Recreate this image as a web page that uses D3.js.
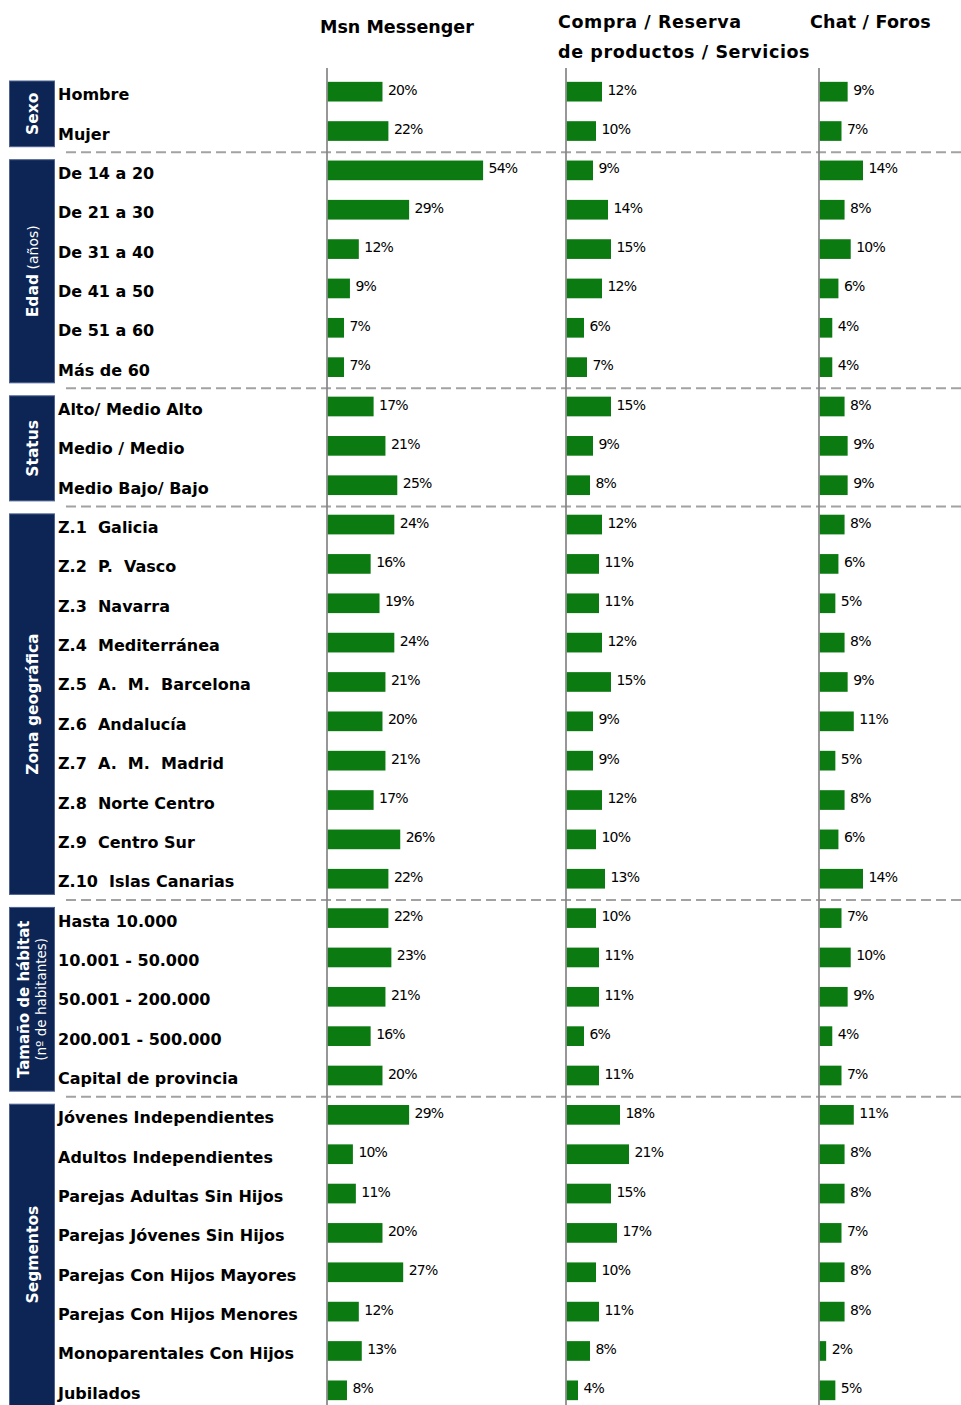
<!DOCTYPE html>
<html><head><meta charset="utf-8">
<script src="https://cdn.jsdelivr.net/npm/d3@7"></script>
<style>body{margin:0;background:#fff}svg{display:block}</style>
</head><body><svg id="chart" width="961" height="1405"></svg>
<script>
// ---------- DATA ----------
const categories = [
  "Hombre","Mujer",
  "De 14 a 20","De 21 a 30","De 31 a 40","De 41 a 50","De 51 a 60","Más de 60",
  "Alto/ Medio Alto","Medio / Medio","Medio Bajo/ Bajo",
  "Z.1  Galicia","Z.2  P.  Vasco","Z.3  Navarra","Z.4  Mediterránea","Z.5  A.  M.  Barcelona",
  "Z.6  Andalucía","Z.7  A.  M.  Madrid","Z.8  Norte Centro","Z.9  Centro Sur","Z.10  Islas Canarias",
  "Hasta 10.000","10.001 - 50.000","50.001 - 200.000","200.001 - 500.000","Capital de provincia",
  "Jóvenes Independientes","Adultos Independientes","Parejas Adultas Sin Hijos","Parejas Jóvenes Sin Hijos",
  "Parejas Con Hijos Mayores","Parejas Con Hijos Menores","Monoparentales Con Hijos","Jubilados"
];
const groupTitles    = ["Sexo","Edad","Status","Zona geográfica","Tamaño de hábitat","Segmentos"];
const groupSubtitles = ["","(años)","","","(nº de habitantes)",""];
const groupSizes     = [2,6,3,10,5,8];

const msnValues    = [20,22, 54,29,12,9,7,7, 17,21,25, 24,16,19,24,21,20,21,17,26,22, 22,23,21,16,20, 29,10,11,20,27,12,13,8];
const compraValues = [12,10, 9,14,15,12,6,7, 15,9,8, 12,11,11,12,15,9,9,12,10,13, 10,11,11,6,11, 18,21,15,17,10,11,8,4];
const chatValues   = [9,7, 14,8,10,6,4,4, 8,9,9, 8,6,5,8,9,11,5,8,6,14, 7,10,9,4,7, 11,8,8,7,8,8,2,5];

const seriesTitles = [["Msn Messenger"],["Compra / Reserva","de productos / Servicios"],["Chat / Foros"]];

// ---------- LAYOUT ----------
const svg = d3.select("#chart");
const W = 961, H = 1405;
const navy = "#0d2554", green = "#0b7a10";
const boldFont = "'DejaVu Sans', Verdana, sans-serif";

const PI = 0.5;
const y = d3.scaleBand().domain(d3.range(categories.length)).range([72, 1410]).paddingInner(PI).paddingOuter(PI / 2);
const step = y.step();
const rowTop = i => y(0) - step * PI / 2 + i * step;

// columns: each with its own linear scale
const columns = [
  {values: msnValues,    axisX: 327, scale: d3.scaleLinear().domain([0, 54]).range([323.3, 483.1]), titleX: 320, ls: 0},
  {values: compraValues, axisX: 566, scale: d3.scaleLinear().domain([0, 21]).range([566, 629]),    titleX: 558, ls: 0.6},
  {values: chatValues,   axisX: 819, scale: d3.scaleLinear().domain([0, 14]).range([820, 863]),    titleX: 810, ls: 0.2}
];

// group boundaries
const groupStarts = [];
groupSizes.reduce((acc, n) => { groupStarts.push(acc); return acc + n; }, 0);

// dashed separators
const sepG = svg.append("g");
groupStarts.slice(1).forEach(s => {
  const yy = rowTop(s) + 1.5;
  sepG.append("line").attr("x1", 66).attr("x2", W).attr("y1", yy).attr("y2", yy)
    .attr("stroke", "#a2a2a2").attr("stroke-width", 2).attr("stroke-dasharray", "10,5");
});

// axis lines
columns.forEach(c => {
  svg.append("line").attr("x1", c.axisX).attr("x2", c.axisX).attr("y1", 68).attr("y2", H)
    .attr("stroke", "#858585").attr("stroke-width", 1.7);
});

// column titles
seriesTitles.forEach((lines, k) => {
  const t = svg.append("text").attr("font-family", boldFont).attr("font-weight", "bold")
    .attr("font-size", 17.5).attr("fill", "#000").attr("letter-spacing", columns[k].ls);
  lines.forEach((ln, j) => {
    t.append("tspan").attr("x", columns[k].titleX).attr("y", (k === 0 ? 33 : 28) + j * 30).text(ln);
  });
});

// group boxes
groupTitles.forEach((g, gi) => {
  const s = groupStarts[gi], e = s + groupSizes[gi];
  const top = rowTop(s) + 9;
  const bottom = Math.min(rowTop(e) - 4, H + 5);
  svg.append("rect").attr("x", 9.5).attr("y", top).attr("width", 45).attr("height", bottom - top)
    .attr("fill", navy).attr("stroke", "#4d6290").attr("stroke-width", 1);
  const cy = (top + Math.min(bottom, H)) / 2;
  const tg = svg.append("g").attr("transform", `translate(32,${cy}) rotate(-90)`);
  if (groupSubtitles[gi] && gi === 4) {
    tg.append("text").attr("y", -3).attr("text-anchor", "middle").attr("fill", "#fff")
      .attr("font-family", boldFont).attr("font-weight", "bold").attr("font-size", 15).text(g);
    tg.append("text").attr("y", 14).attr("text-anchor", "middle").attr("fill", "#fff")
      .attr("font-family", boldFont).attr("font-size", 13.5).text(groupSubtitles[gi]);
  } else {
    const t = tg.append("text").attr("y", 5.5).attr("text-anchor", "middle").attr("fill", "#fff")
      .attr("font-family", boldFont).attr("font-size", 15.5);
    t.append("tspan").attr("font-weight", "bold").text(g);
    if (groupSubtitles[gi]) t.append("tspan").attr("font-weight", "normal").attr("font-size", 14).text(" " + groupSubtitles[gi]);
  }
});

// category labels
svg.append("g").selectAll("text").data(categories).join("text")
  .attr("x", 58).attr("y", (d, i) => y(i) + y.bandwidth() / 2 + 8.5)
  .attr("font-family", boldFont).attr("font-weight", "bold").attr("font-size", 16)
  .attr("fill", "#000").style("white-space", "pre").text(d => d);

// bars + value labels
columns.forEach(c => {
  const g = svg.append("g");
  g.selectAll("rect").data(c.values).join("rect")
    .attr("x", c.axisX + 0.8).attr("y", (d, i) => y(i))
    .attr("width", d => Math.max(0, c.scale(d) - c.axisX - 0.8)).attr("height", y.bandwidth())
    .attr("fill", green);
  g.selectAll("text").data(c.values).join("text")
    .attr("x", d => c.scale(d) + 5.5).attr("y", (d, i) => y(i) + y.bandwidth() / 2 + 3)
    .attr("font-family", boldFont).attr("font-size", 14).attr("letter-spacing", -0.8)
    .attr("fill", "#000").text(d => d + "%");
});
</script></body></html>
